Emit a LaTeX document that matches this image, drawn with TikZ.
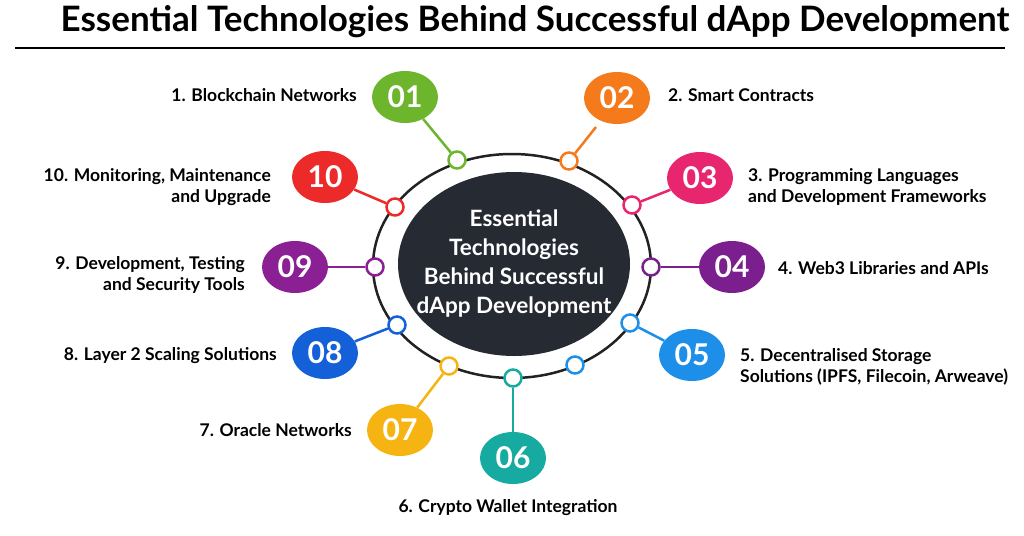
\documentclass[tikz,border=0pt]{standalone}
\usepackage{fontspec}
\setmainfont{Lato}
\usetikzlibrary{shapes.geometric, positioning}

\definecolor{cGreen}{HTML}{6CB52D}
\definecolor{cOrange}{HTML}{F57A1C}
\definecolor{cPink}{HTML}{E8266F}
\definecolor{cPurple}{HTML}{7B1F8F}
\definecolor{cSky}{HTML}{1E8FE8}
\definecolor{cTeal}{HTML}{17AAA0}
\definecolor{cYellow}{HTML}{F5B412}
\definecolor{cBlue}{HTML}{1360D8}
\definecolor{cViolet}{HTML}{8A2093}
\definecolor{cRed}{HTML}{EC2A2A}
\definecolor{coreDark}{HTML}{262A33}
\definecolor{ringDark}{HTML}{222222}

\tikzset{
  bubble/.style={ellipse, fill=#1, text=white, inner sep=0pt,
                 minimum width=66pt, minimum height=52pt,
                 font=\bfseries\fontsize{30}{30}\selectfont},
  dot/.style={circle, draw=#1, fill=white, line width=2.5pt,
              minimum size=17pt, inner sep=0pt},
  link/.style={draw=#1, line width=2.5pt},
  lbl/.style={font=\bfseries\fontsize{17.5}{21}\selectfont, text=black, inner sep=0pt}
}

\begin{document}
\begin{tikzpicture}[x=1pt, y=-1pt]
  \useasboundingbox (0,0) rectangle (1024,535);

  % title
  \node (title) [font=\bfseries\fontsize{35}{40}\selectfont] at (535,22)
        {Essential Technologies Behind Successful dApp Development};
  \draw[line width=1.5pt] (15,48) -- (1005,48);

  % centre
  \draw[line width=2.5pt, ringDark] (512,266) ellipse [x radius=139pt, y radius=112pt];
  \node (core) [ellipse, fill=coreDark, text=white, align=center,
                inner xsep=-30pt, inner ysep=-20pt,
                minimum width=232pt, minimum height=184pt,
                font=\bfseries\fontsize{22.5}{29}\selectfont] at (514,264)
        {Essential\\Technologies\\Behind Successful\\dApp Development};

  % dots on the ring
  \node (d01) [dot=cGreen]  at (457,160) {};
  \node (d02) [dot=cOrange] at (569,161) {};
  \node (d03) [dot=cPink]   at (632,205) {};
  \node (d04) [dot=cPurple] at (651,267) {};
  \node (d05) [dot=cSky]    at (630,323) {};
  \node (dxx) [dot=cSky]    at (575,365) {};
  \node (d06) [dot=cTeal]   at (513,378) {};
  \node (d07) [dot=cYellow] at (449,366) {};
  \node (d08) [dot=cBlue]   at (397,325) {};
  \node (d09) [dot=cViolet] at (375,267) {};
  \node (d10) [dot=cRed]    at (395,207) {};

  % numbered bubbles
  \node (b01) [bubble=cGreen]  at (405,97)  {01};
  \node (b02) [bubble=cOrange] at (617,98)  {02};
  \node (b03) [bubble=cPink]   at (700,178) {03};
  \node (b04) [bubble=cPurple] at (732,267) {04};
  \node (b05) [bubble=cSky]    at (692,355) {05};
  \node (b06) [bubble=cTeal]   at (513,458) {06};
  \node (b07) [bubble=cYellow] at (400,430) {07};
  \node (b08) [bubble=cBlue]   at (325,353) {08};
  \node (b09) [bubble=cViolet] at (295,267) {09};
  \node (b10) [bubble=cRed]    at (325,177) {10};
  \coordinate (c02) at (596,127);

  % links
  \draw[link=cGreen]  (b01) -- (d01);
  \draw[link=cOrange] (d02) -- (c02);
  \draw[link=cPink]   (b03) -- (d03);
  \draw[link=cPurple] (b04) -- (d04);
  \draw[link=cSky]    (b05) -- (d05);
  \draw[link=cTeal]   (b06) -- (d06);
  \draw[link=cYellow] (b07) -- (d07);
  \draw[link=cBlue]   (b08) -- (d08);
  \draw[link=cViolet] (b09) -- (d09);
  \draw[link=cRed]    (b10) -- (d10);

  % labels
  \node (t01) [lbl, anchor=east] at (357,95) {1. Blockchain Networks};
  \node (t02) [lbl, anchor=west] at (668,95) {2. Smart Contracts};
  \node (t03) [lbl, anchor=west, align=left] at (748,187)
        {3. Programming Languages\\and Development Frameworks};
  \node (t04) [lbl, anchor=west] at (778,268) {4. Web3 Libraries and APIs};
  \node (t05) [lbl, anchor=west, align=left] at (740,367)
        {5. Decentralised Storage\\Solutions (IPFS, Filecoin, Arweave)};
  \node (t06) [lbl] at (508,508) {6. Crypto Wallet Integration};
  \node (t07) [lbl, anchor=east] at (352,430) {7. Oracle Networks};
  \node (t08) [lbl, anchor=east] at (277,356) {8. Layer 2 Scaling Solutions};
  \node (t09) [lbl, anchor=east, align=right] at (245,275)
        {9. Development, Testing\\and Security Tools};
  \node (t10) [lbl, anchor=east, align=right] at (271,187)
        {10. Monitoring, Maintenance\\and Upgrade};
\end{tikzpicture}
\end{document}
